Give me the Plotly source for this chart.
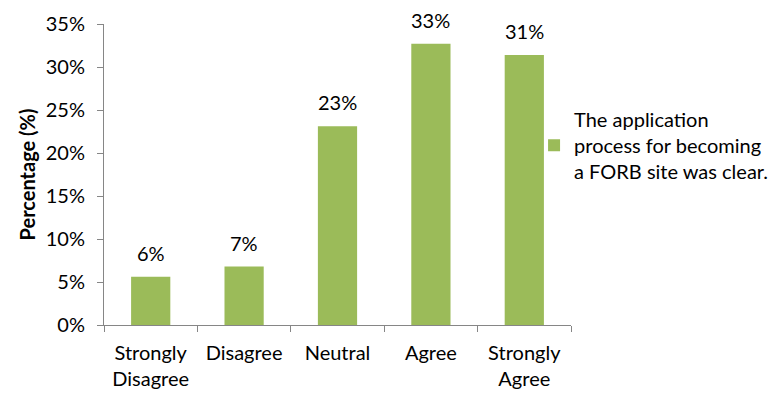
import plotly.graph_objects as go

categories = ["Strongly<br>Disagree", "Disagree", "Neutral", "Agree", "Strongly<br>Agree"]
values = [5.6, 6.8, 23.1, 32.7, 31.4]
labels = ["6%", "7%", "23%", "33%", "31%"]
series_name = "The application<br>process for becoming<br>a FORB site was clear."
y_ticks = [0, 5, 10, 15, 20, 25, 30, 35]
y_ticktext = [f"{v}%" for v in y_ticks]

FONT = "Lato"
FS = 20
green = "#9BBB59"

fig = go.Figure()
fig.add_trace(go.Bar(
    x=categories, y=values, name=series_name,
    marker=dict(color=green, line=dict(width=0)),
    width=0.42,
    showlegend=True,
))

for c, v, t in zip(categories, values, labels):
    fig.add_annotation(x=c, y=v, text=t, showarrow=False,
                       yanchor="bottom", yshift=10,
                       font=dict(family=FONT, size=FS, color="#000000"))

fig.update_layout(
    width=774, height=398,
    margin=dict(l=104, r=203, t=24, b=73, autoexpand=False),
    paper_bgcolor="white", plot_bgcolor="white",
    font=dict(family=FONT, size=FS, color="#000000"),
    showlegend=True,
    legend=dict(
        xref="container", yref="container",
        x=0.69, xanchor="left", y=0.635, yanchor="middle",
        font=dict(family=FONT, size=FS, color="#000000"),
        itemsizing="constant", tracegroupgap=0,
        bgcolor="rgba(0,0,0,0)",
    ),
    xaxis=dict(
        showline=True, linecolor="#868686", linewidth=1,
        ticks="outside", tickson="boundaries", ticklen=6, tickcolor="#868686",
        tickfont=dict(family=FONT, size=FS), ticklabelstandoff=10,
        tickangle=0, automargin=False,
        showgrid=False,
    ),
    yaxis=dict(
        range=[0, 35], tickvals=y_ticks, ticktext=y_ticktext,
        showline=True, linecolor="#868686", linewidth=1,
        ticks="outside", ticklen=6, tickcolor="#868686",
        tickfont=dict(family=FONT, size=FS), ticklabelstandoff=8,
        showgrid=False, zeroline=False, automargin=False,
        title=dict(text="<b>Percentage (%)</b>", font=dict(family=FONT, size=FS), standoff=4),
    ),
)

fig.write_html("out.html")
